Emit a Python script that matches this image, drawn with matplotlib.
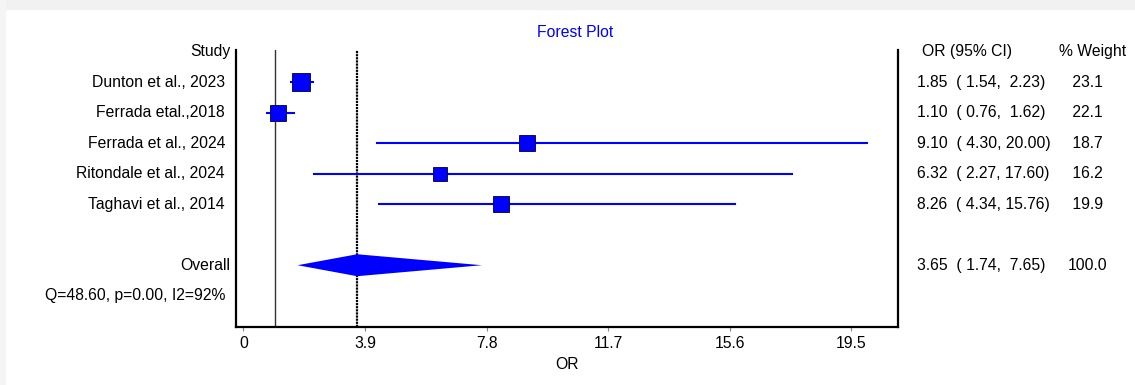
import numpy as np
import matplotlib
matplotlib.use('Agg')
import matplotlib.pyplot as plt
from matplotlib.patches import Polygon, Rectangle

#set font
plt.rcParams['font.family'] = ['Liberation Sans', 'DejaVu Sans']
plt.rcParams['font.size'] = 11.3

#data
studies = ['Dunton et al., 2023', 'Ferrada etal.,2018', 'Ferrada et al., 2024',
           'Ritondale et al., 2024', 'Taghavi et al., 2014']
odds = [1.85, 1.10, 9.10, 6.32, 8.26]
lower = [1.54, 0.76, 4.30, 2.27, 4.34]
upper = [2.23, 1.62, 20.00, 17.60, 15.76]
weight = [23.1, 22.1, 18.7, 16.2, 19.9]
overall = [3.65, 1.74, 7.65, 100.0]
het_text = 'Q=48.60, p=0.00, I2=92%'
xticks = [0, 3.9, 7.8, 11.7, 15.6, 19.5]

rows = np.arange(1, len(studies) + 1)
row_overall = len(studies) + 2
row_het = row_overall + 1

#figure
fig = plt.figure(figsize=(11.35, 3.85), dpi=100)
fig.patches.append(Rectangle((0, 1 - 9/385), 1, 9/385, transform=fig.transFigure,
                             color='#f1f1f1', zorder=-10))
fig.patches.append(Rectangle((0, 0), 5/1135, 1, transform=fig.transFigure,
                             color='#f5f5f5', zorder=-10))
ax = fig.add_axes([0.2077, 0.1514, 0.5835, 0.7187])

#reference lines
ax.axvline(1, color='#333333', lw=1, zorder=1)
ax.axvline(overall[0], color='black', lw=1.6, ls=(0, (1, 0.4)), zorder=1)

#studies
for y, o, lo, hi, w in zip(rows, odds, lower, upper, weight):
	ax.plot([lo, hi], [y, y], color='blue', lw=1.5, zorder=2)
	ax.plot(o, y, marker='s', ms=2.55*np.sqrt(w), color='blue',
		mec='#000033', mew=0.6, zorder=3)

#overall diamond
h = 0.36
diamond = Polygon([[overall[1], row_overall], [overall[0], row_overall - h],
                   [overall[2], row_overall], [overall[0], row_overall + h]],
                  closed=True, facecolor='blue', edgecolor='none', zorder=3)
ax.add_patch(diamond)

ax.set_xlim(-0.244, 21.0)
ax.set_ylim(row_het + 1.016, -0.056)
ax.set_xticks(xticks)
ax.set_xticklabels([str(t) if t != 0 else '0' for t in xticks])
ax.set_yticks([])
ax.tick_params(axis='x', length=3, width=0.8, color='#888888', pad=4)
ax.set_xlabel('OR', labelpad=4)

ax.spines['top'].set_visible(False)
for s in ['left', 'right', 'bottom']:
	ax.spines[s].set_linewidth(1.6)
	ax.spines[s].set_color('black')

#left labels
ty = ax.get_yaxis_transform()
ax.text(-0.0086, 0, 'Study', transform=ty, ha='right', va='center')
for y, name in zip(rows, studies):
	ax.text(-0.0162, y, name, transform=ty, ha='right', va='center')
ax.text(-0.0086, row_overall, 'Overall', transform=ty, ha='right', va='center')
ax.text(-0.0162, row_het, het_text, transform=ty, ha='right', va='center')

#right columns
ax.text(1.0358, 0, 'OR (95% CI)', transform=ty, ha='left', va='center')
ax.text(1.2430, 0, '% Weight', transform=ty, ha='left', va='center')
for y, o, lo, hi, w in zip(rows, odds, lower, upper, weight):
	ax.text(1.0287, y, f'{o:.2f}  ( {lo:.2f}, {hi:5.2f})', transform=ty,
		ha='left', va='center')
	ax.text(1.2570, y, f'{w:5.1f}', transform=ty, ha='left', va='center')
ax.text(1.0287, row_overall, f'{overall[0]:.2f}  ( {overall[1]:.2f}, {overall[2]:5.2f})',
	transform=ty, ha='left', va='center')
ax.text(1.2570, row_overall, f'{overall[3]:5.1f}', transform=ty, ha='left', va='center')

#title
fig.text(0.5066, 0.9143, 'Forest Plot', color='blue', ha='center', va='center')

fig.savefig('out.png', dpi=100)
